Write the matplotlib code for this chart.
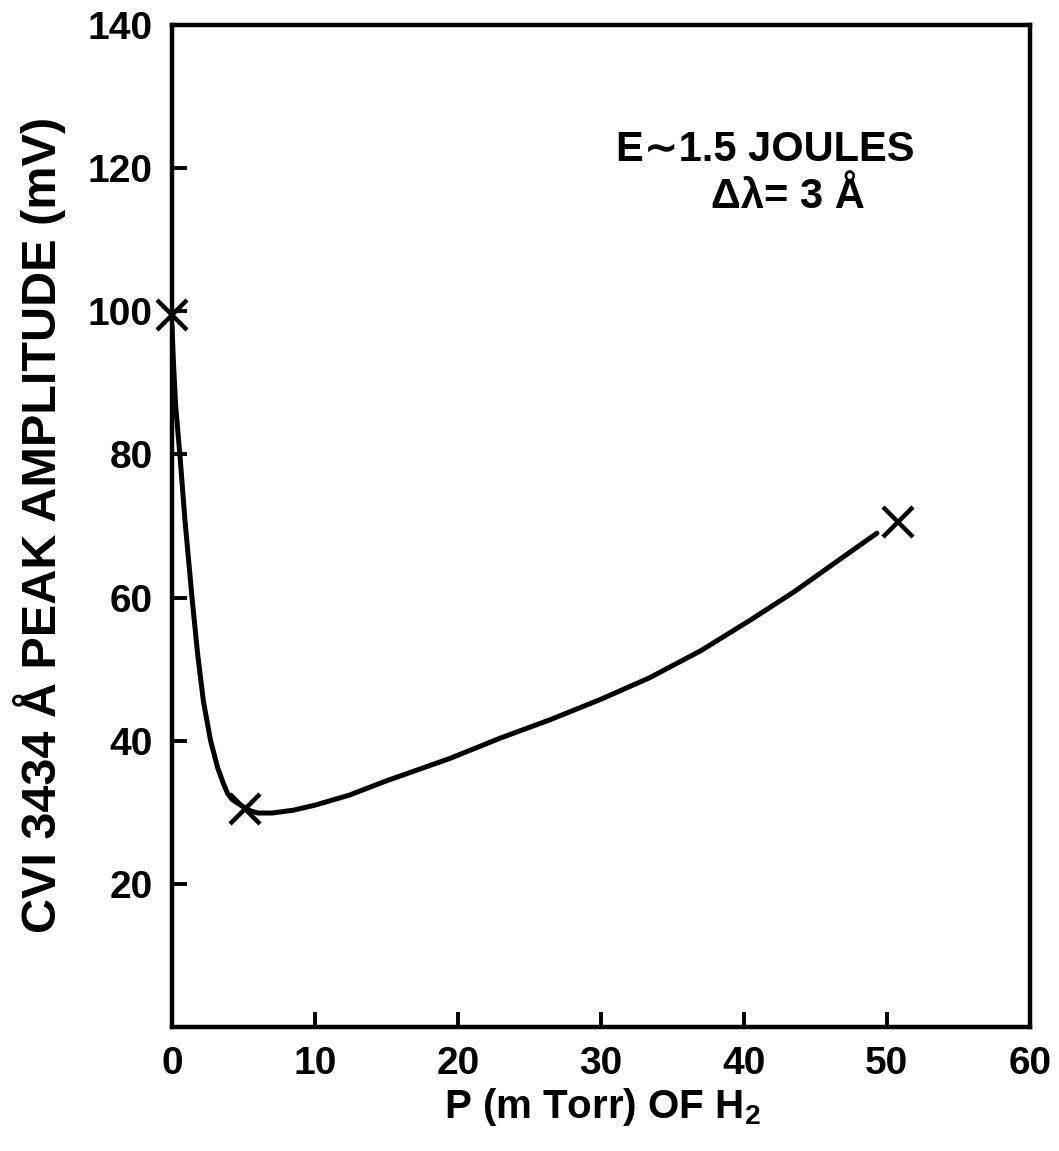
import matplotlib
matplotlib.use("Agg")
import matplotlib.pyplot as plt

plt.rcParams["font.family"] = ["Liberation Sans", "DejaVu Sans"]
plt.rcParams["font.weight"] = "bold"
plt.rcParams["mathtext.fontset"] = "custom"
plt.rcParams["mathtext.rm"] = "Liberation Sans:bold"
plt.rcParams["mathtext.bf"] = "Liberation Sans:bold"

# measured points (x markers)
marker_p = [0.0, 5.1, 50.8]
marker_amp = [99.5, 30.5, 70.5]

# hand-drawn fitted curve
curve_p = [0.0, 0.1, 0.25, 0.55, 0.9, 1.4, 1.8, 2.2, 2.7, 3.2, 3.6, 3.9, 4.2,
           4.8, 5.5, 6.0, 7.0, 8.5, 10.0, 12.4, 15.0, 19.4, 23.0, 26.4, 30.0,
           33.4, 37.0, 40.4, 43.5, 46.6, 49.3]
curve_amp = [98.0, 93.0, 87.0, 80.0, 71.0, 60.0, 52.0, 45.5, 40.0, 36.2, 34.0, 32.6, 31.8,
             31.0, 30.2, 29.9, 29.9, 30.3, 31.0, 32.4, 34.4, 37.5, 40.4, 42.9, 45.8,
             48.8, 52.6, 56.8, 60.8, 65.2, 69.0]

x_ticks = [0, 10, 20, 30, 40, 50, 60]
y_ticks = [20, 40, 60, 80, 100, 120, 140]

fig = plt.figure(figsize=(10.59, 11.51), dpi=100)
ax = fig.add_axes([0.1624, 0.1077, 0.9726 - 0.1624, 0.9783 - 0.1077])

ax.plot(curve_p, curve_amp, color="black", linewidth=3.6, solid_capstyle="round")
ax.plot(marker_p, marker_amp, linestyle="none", marker="x", markersize=22,
        markeredgewidth=3.2, color="black", clip_on=False, zorder=5)

ax.set_xlim(0, 60)
ax.set_ylim(0, 140)
ax.set_xticks(x_ticks)
ax.set_yticks(y_ticks)
ax.tick_params(direction="in", length=11, width=2.8, labelsize=28, pad=14,
               top=False, right=False)
for lab in ax.get_xticklabels() + ax.get_yticklabels():
    lab.set_fontweight("bold")
for side in ["left", "right", "top", "bottom"]:
    ax.spines[side].set_linewidth(3.2)

fig.text(602 / 1059, 1 - 1118 / 1151, "P (m Torr) OF H$_{2}$", ha="center", va="baseline",
         fontsize=29, fontweight="bold")
fig.text(40 / 1059, 1 - 525 / 1151, "CVI 3434 Å PEAK AMPLITUDE (mV)", rotation=90,
         ha="center", va="center", fontsize=35, fontweight="bold")

ax.text(0.692, 0.875, "E∼1.5 JOULES", transform=ax.transAxes, ha="center", va="center",
        fontsize=30, fontweight="bold")
ax.text(0.718, 0.828, "Δλ= 3 Å", transform=ax.transAxes, ha="center", va="center",
        fontsize=30, fontweight="bold")

fig.savefig("out.png", dpi=100)
